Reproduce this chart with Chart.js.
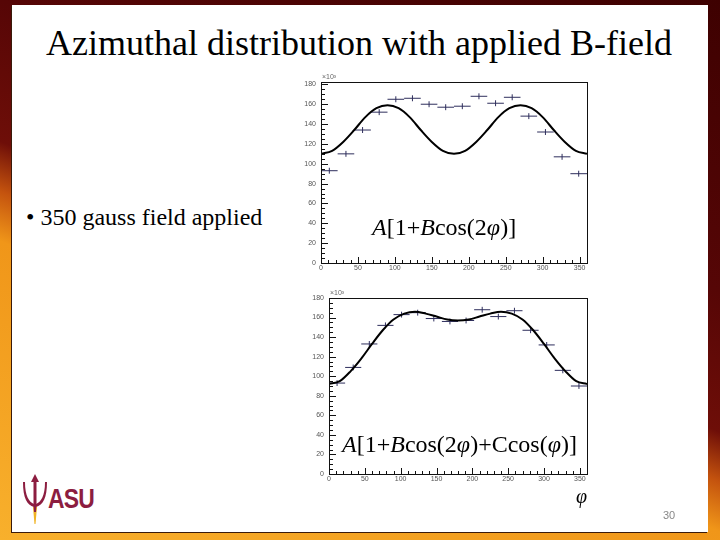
<!DOCTYPE html>
<html>
<head>
<meta charset="utf-8">
<script src="https://cdn.jsdelivr.net/npm/chart.js@4.4.0/dist/chart.umd.min.js"></script>
<style>
  html, body { margin: 0; padding: 0; }
  body {
    width: 720px; height: 540px; overflow: hidden; position: relative;
    background: linear-gradient(202deg, #3e0101 0%, #560606 35%, #6e0e08 52%, #c4530e 58%, #f09619 64%, #f8b02c 100%);
  }
  #slide {
    position: absolute; left: 12px; top: 5px; width: 696px; height: 527px;
    background: #fff; box-shadow: -1px 1px 0 #3a1a0a;
  }
  .serif { font-family: "Liberation Serif", "Times New Roman", serif; line-height: 1; position: absolute; white-space: nowrap; color: #000; }
  #title { left: 0; width: 718px; top: 25px; font-size: 36px; text-align: center; }
  #bullet { left: 26px; top: 205px; font-size: 24px; }
  .formula { font-size: 24px; }
  #f1 { left: 372px; top: 215px; }
  #f2 { left: 342px; top: 432px; }
  #phi { left: 576px; top: 486px; font-size: 20px; font-style: italic; }
  #page { position: absolute; left: 663px; top: 509px; font: 11px "Liberation Sans", Arial, sans-serif; color: #888; }
  .box { position: absolute; }
  #asu { position: absolute; left: 48px; top: 484px; font: bold 27px "Liberation Sans Narrow", "Liberation Sans", sans-serif; color: #8c1d40; letter-spacing: -1px; transform: scaleX(0.85); transform-origin: left; }
</style>
</head>
<body>
<div id="slide"></div>
<div id="title" class="serif">Azimuthal distribution with applied B-field</div>
<div id="bullet" class="serif">&bull; 350 gauss field applied</div>

<div class="box" style="left:298px; top:72px; width:296px; height:203px;">
  <canvas id="topChart" width="296" height="203"></canvas>
</div>
<div class="box" style="left:298px; top:288px; width:296px; height:198px;">
  <canvas id="bottomChart" width="296" height="198"></canvas>
</div>

<div id="f1" class="serif formula"><i>A</i>[1+<i>B</i>cos(2<i>&phi;</i>)]</div>
<div id="f2" class="serif formula"><i>A</i>[1+<i>B</i>cos(2<i>&phi;</i>)+Ccos(<i>&phi;</i>)]</div>
<div id="phi" class="serif">&phi;</div>
<div id="page">30</div>

<svg style="position:absolute; left:22px; top:474px;" width="26" height="52" viewBox="0 0 26 52">
  <path d="M13 0 L17 8 L14.5 8 L14.5 30 L11.5 30 L11.5 8 L9 8 Z" fill="#8c1d40"/>
  <path d="M3 8 C3 22 7 28 12 30 L12 33 C5 31 1 24 1 8 Z" fill="#8c1d40"/>
  <path d="M23 8 C23 22 19 28 14 30 L14 33 C21 31 25 24 25 8 Z" fill="#8c1d40"/>
  <path d="M11 33 L15 33 L13.5 50 L12.5 50 Z" fill="#f0b323"/>
  <path d="M11.5 30 L14.5 30 L14 38 L12 38 Z" fill="#8c1d40"/>
</svg>
<div id="asu">ASU</div>

<script>
// histogram bins (degrees)
const binCenters = [11.25, 33.75, 56.25, 78.75, 101.25, 123.75, 146.25, 168.75,
                    191.25, 213.75, 236.25, 258.75, 281.25, 303.75, 326.25, 348.75];
const binHalfWidth = 11.25;

// counts (x10^3)
const topValues    = [93, 110, 134, 152, 165, 166, 160, 157, 158, 168, 161, 167, 148, 132, 107, 90];
const bottomValues = [93, 109, 133, 152, 163, 165, 159, 156, 157, 168, 161, 167, 147, 132, 106, 90];
const errValues    = [3, 3, 3, 3, 3, 3, 3, 3, 3, 3, 3, 3, 3, 3, 3, 3];

// fit curves
const fitAngles = [0, 15, 30, 45, 60, 75, 90, 105, 120, 135, 150, 165, 180,
                   195, 210, 225, 240, 255, 270, 285, 300, 315, 330, 345, 360];
const topFit    = [110, 113, 122, 134, 147, 156, 159, 156, 147, 134, 122, 113, 110,
                   113, 122, 134, 147, 156, 159, 156, 147, 134, 122, 113, 110];
const bottomFit = [92, 95, 105, 118, 133, 147, 158, 164, 166, 164, 161, 158, 157,
                   158, 161, 164, 166, 164, 158, 147, 133, 118, 105, 95, 92];

const xTicks = [0, 50, 100, 150, 200, 250, 300, 350];
const yTicks = [0, 20, 40, 60, 80, 100, 120, 140, 160, 180];

function crossPoints(vals) {
    const pts = [];
    binCenters.forEach((c, i) => {
        pts.push({ x: c - binHalfWidth, y: vals[i] }, { x: c + binHalfWidth, y: vals[i] }, { x: c, y: null });
        pts.push({ x: c, y: vals[i] - errValues[i] }, { x: c, y: vals[i] + errValues[i] }, { x: c, y: null });
    });
    return pts;
}

// ROOT style frame with inner ticks
const rootFrame = {
    id: 'rootFrame',
    afterDraw(chart, args, opts) {
        const { ctx, chartArea: a, scales: { x, y } } = chart;
        ctx.save();
        ctx.strokeStyle = '#111';
        ctx.lineWidth = 1;
        ctx.strokeRect(Math.round(a.left) + 0.5, Math.round(a.top) + 0.5,
                       Math.round(a.right - a.left), Math.round(a.bottom - a.top));
        ctx.beginPath();
        for (let v = 0; v <= y.max; v += 5) {
            const p = Math.round(y.getPixelForValue(v)) + 0.5;
            const len = v % 20 === 0 ? 7 : 4;
            ctx.moveTo(a.left, p); ctx.lineTo(a.left + len, p);
        }
        for (let v = 0; v <= x.max; v += 10) {
            const p = Math.round(x.getPixelForValue(v)) + 0.5;
            const len = v % 50 === 0 ? 6 : 3;
            ctx.moveTo(p, a.bottom); ctx.lineTo(p, a.bottom - len);
        }
        ctx.stroke();
        ctx.fillStyle = '#666';
        ctx.font = '7px "Liberation Sans", sans-serif';
        ctx.textBaseline = 'bottom';
        ctx.fillText(opts.exp, a.left + 1, a.top - 1);
        ctx.restore();
    }
};

function makeChart(id, values, fit, yMax, yWidth) {
    return new Chart(document.getElementById(id).getContext('2d'), {
        type: 'line',
        data: {
            datasets: [
                {
                    data: fitAngles.map((a, i) => ({ x: a, y: fit[i] })),
                    borderColor: '#000',
                    borderWidth: 2,
                    pointRadius: 0,
                    cubicInterpolationMode: 'monotone'
                },
                {
                    data: crossPoints(values),
                    borderColor: '#2e2e5c',
                    borderWidth: 1,
                    pointRadius: 0,
                    spanGaps: false,
                    tension: 0
                }
            ]
        },
        options: {
            responsive: false,
            animation: false,
            layout: { padding: { top: 10, right: 7, left: 0, bottom: 0 } },
            plugins: {
                legend: { display: false },
                tooltip: { enabled: false },
                rootFrame: { exp: '\u00d710\u00b3' }
            },
            scales: {
                x: {
                    type: 'linear', min: 0, max: 360,
                    grid: { display: false, drawTicks: false },
                    border: { display: false },
                    ticks: { font: { size: 7, family: 'Liberation Sans' }, color: '#555', padding: 1, maxRotation: 0, autoSkip: false },
                    afterBuildTicks: s => { s.ticks = xTicks.map(v => ({ value: v })); },
                    afterFit: s => { s.height = 12; }
                },
                y: {
                    min: 0, max: yMax,
                    grid: { display: false, drawTicks: false },
                    border: { display: false },
                    ticks: { font: { size: 7, family: 'Liberation Sans' }, color: '#555', padding: 5, autoSkip: false },
                    afterBuildTicks: s => { s.ticks = yTicks.map(v => ({ value: v })); },
                    afterFit: s => { s.width = yWidth; }
                }
            }
        },
        plugins: [rootFrame]
    });
}

makeChart('topChart', topValues, topFit, 182.4, 23);
makeChart('bottomChart', bottomValues, bottomFit, 180, 31);
</script>
</body>
</html>
